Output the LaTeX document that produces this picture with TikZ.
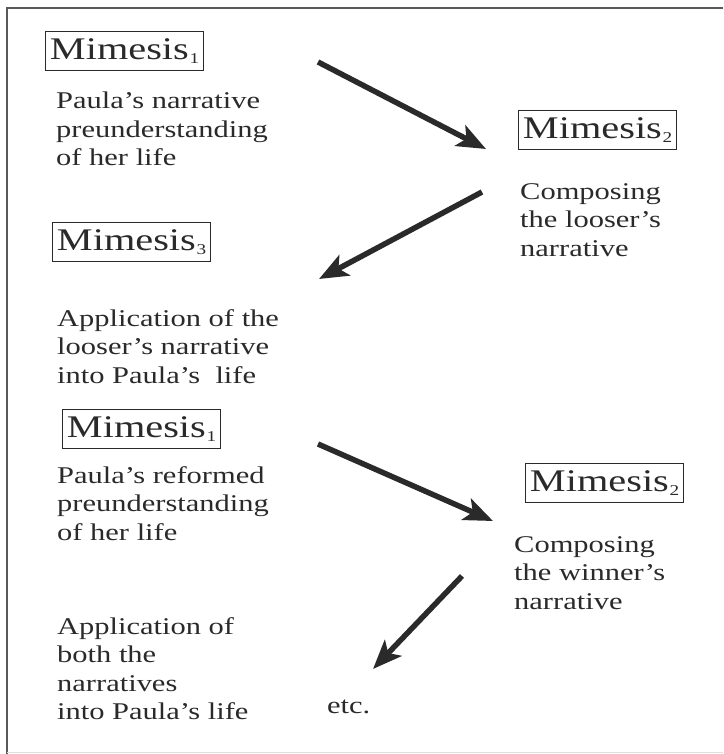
\documentclass[tikz,border=0pt]{standalone}
\usepackage{fontspec}
\setmainfont{Liberation Serif}
\usetikzlibrary{arrows.meta}
\definecolor{ink}{HTML}{2A2A2A}
\newcommand{\stretchtxt}[1]{\scalebox{1.27}[1]{\begin{tabular}[t]{@{}l@{}}#1\end{tabular}}}
\newcommand{\mim}[1]{\scalebox{1.28}[1]{Mimesis\kern0.5pt\raisebox{-4pt}{\fontsize{15}{15}\selectfont #1}}}
\begin{document}
\begin{tikzpicture}[x=1pt,y=-1pt,
  txt/.style={anchor=base west, inner sep=0pt, text=ink, font=\fontsize{24}{28.5}\selectfont},
  mbox/.style={anchor=north west, draw=ink, line width=1.1pt, minimum width=158pt, minimum height=39pt, inner sep=0pt, text=ink, font=\fontsize{31.5}{34}\selectfont},
  bigarrow/.style={draw=ink, line width=5.5pt, -{Stealth[length=29pt, width=23pt, inset=7pt]}},
  frame/.style={draw=black!65, line width=1.4pt}]
\useasboundingbox (0,0) rectangle (723,754);
% frame
\draw[frame] (723,8) -- (7,8) -- (7,754);
\draw[draw=black!12, line width=1pt] (7,752) -- (723,752);
% boxes
\node[mbox] (m1a) at (45,31) {\mim{1}};
\node[mbox] (m2a) at (518,110) {\mim{2}};
\node[mbox] (m3) at (52,222) {\mim{3}};
\node[mbox] (m1b) at (62,409) {\mim{1}};
\node[mbox] (m2b) at (525,463) {\mim{2}};
% texts
\node[txt] (t1) at (56,109) {\stretchtxt{Paula’s narrative\\preunderstanding\\of her life}};
\node[txt] (t2) at (520,199) {\stretchtxt{Composing\\the looser’s\\narrative}};
\node[txt] (t3) at (57,326) {\stretchtxt{Application of the\\looser’s narrative\\into Paula’s~ life}};
\node[txt] (t4) at (57,483) {\stretchtxt{Paula’s reformed\\preunderstanding\\of her life}};
\node[txt] (t5) at (514,552) {\stretchtxt{Composing\\the winner’s\\narrative}};
\node[txt] (t6) at (57,634) {\stretchtxt{Application of\\both the\\narratives\\into Paula’s life}};
\node[txt] (etc) at (327,713) {\stretchtxt{etc.}};
% arrows
\coordinate (a1s) at (318,62);  \coordinate (a1e) at (486,149);
\coordinate (a2s) at (482,192); \coordinate (a2e) at (319,279);
\coordinate (a3s) at (318,444); \coordinate (a3e) at (493,521);
\coordinate (a4s) at (462,576); \coordinate (a4e) at (373,669);
\draw[bigarrow] (a1s) -- (a1e);
\draw[bigarrow] (a2s) -- (a2e);
\draw[bigarrow] (a3s) -- (a3e);
\draw[bigarrow] (a4s) -- (a4e);
\end{tikzpicture}
\end{document}
